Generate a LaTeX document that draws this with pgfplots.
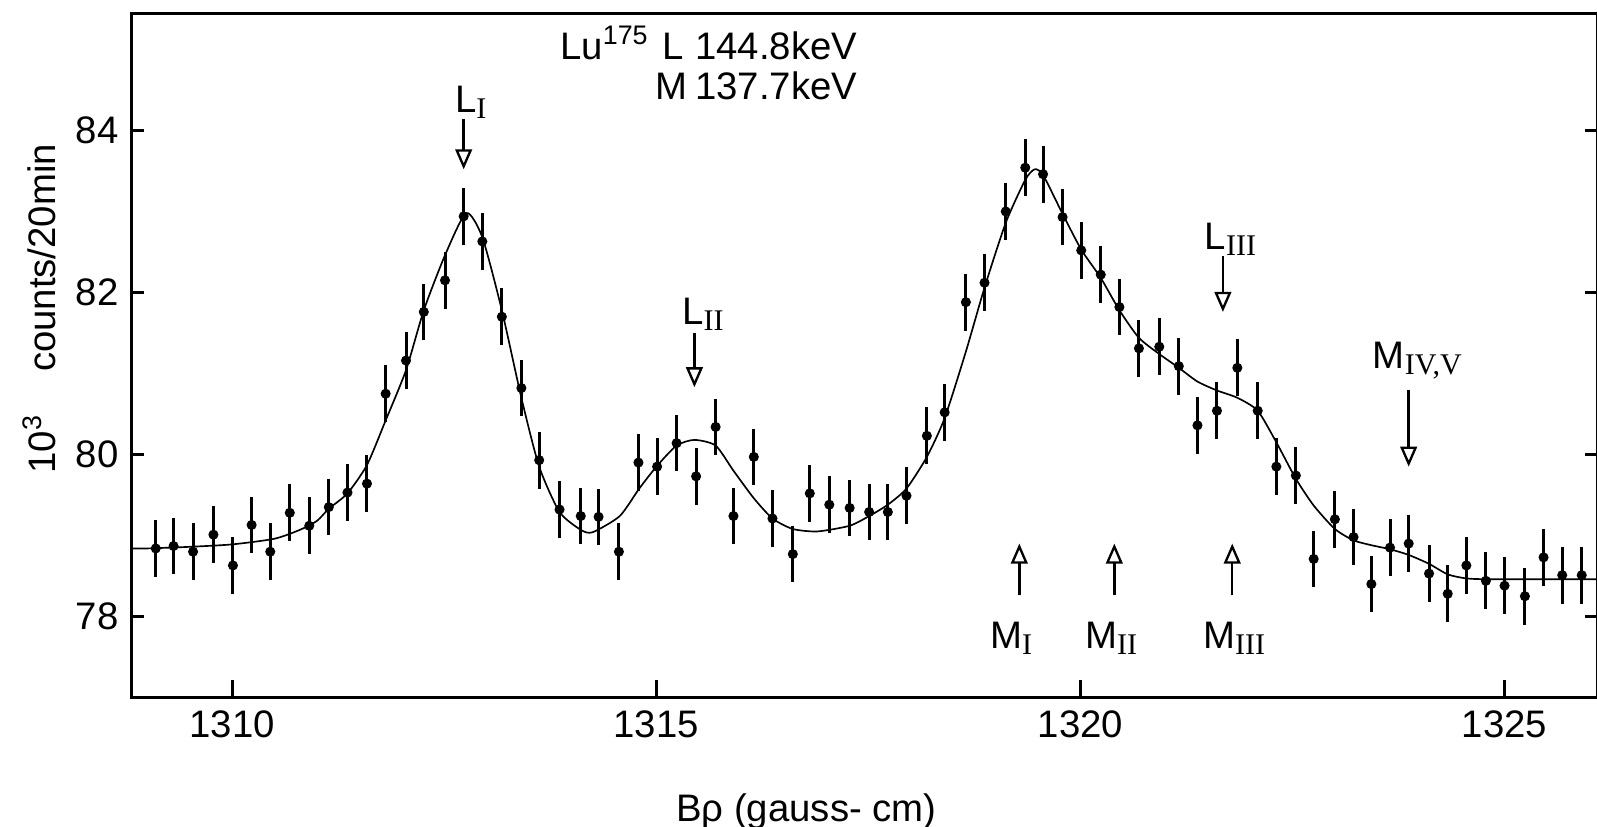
\documentclass[border=0pt]{standalone}
\usepackage{fontspec}
\setmainfont{Liberation Sans}
\newfontfamily\serif{Liberation Serif}
\usepackage{pgfplots}
\usepackage{pgfplotstable}
\pgfplotsset{compat=1.18}
\usetikzlibrary{arrows.meta}
\newcommand{\sub}[1]{\raisebox{-0.3ex}{\fontsize{9}{10}\selectfont\serif #1}}

\pgfplotstableread{
x y
1309.10 78.84
1309.31 78.87
1309.54 78.80
1309.78 79.01
1310.01 78.63
1310.23 79.13
1310.45 78.80
1310.68 79.28
1310.91 79.12
1311.14 79.35
1311.36 79.53
1311.59 79.64
1311.81 80.75
1312.05 81.16
1312.26 81.76
1312.51 82.15
1312.73 82.94
1312.95 82.63
1313.18 81.70
1313.41 80.82
1313.62 79.93
1313.86 79.32
1314.11 79.24
1314.32 79.23
1314.56 78.80
1314.79 79.90
1315.01 79.85
1315.24 80.14
1315.47 79.73
1315.70 80.34
1315.91 79.24
1316.15 79.97
1316.37 79.21
1316.61 78.77
1316.81 79.52
1317.04 79.38
1317.28 79.34
1317.51 79.29
1317.73 79.29
1317.95 79.49
1318.19 80.23
1318.40 80.52
1318.65 81.88
1318.87 82.12
1319.12 83.00
1319.35 83.54
1319.56 83.46
1319.79 82.93
1320.01 82.52
1320.24 82.22
1320.46 81.82
1320.69 81.31
1320.93 81.33
1321.16 81.09
1321.38 80.36
1321.61 80.54
1321.85 81.07
1322.09 80.54
1322.31 79.85
1322.54 79.74
1322.75 78.71
1323.00 79.20
1323.22 78.98
1323.43 78.40
1323.65 78.85
1323.87 78.90
1324.11 78.53
1324.33 78.28
1324.55 78.63
1324.78 78.44
1325.00 78.38
1325.24 78.25
1325.46 78.73
1325.68 78.51
1325.91 78.51
}\points

\pgfplotstableread{
x y
1308.82 78.84
1309.00 78.84
1309.50 78.86
1310.00 78.89
1310.50 78.96
1310.80 79.07
1311.00 79.18
1311.14 79.33
1311.36 79.52
1311.59 79.87
1311.81 80.42
1312.05 81.04
1312.26 81.78
1312.51 82.46
1312.76 82.98
1312.95 82.68
1313.18 81.78
1313.41 80.70
1313.62 79.85
1313.86 79.29
1314.11 79.07
1314.25 79.04
1314.57 79.24
1314.80 79.58
1315.01 79.86
1315.24 80.11
1315.45 80.18
1315.70 80.11
1315.91 79.80
1316.15 79.46
1316.37 79.21
1316.61 79.08
1316.90 79.05
1317.28 79.12
1317.51 79.24
1317.73 79.38
1317.95 79.58
1318.19 79.97
1318.40 80.45
1318.65 81.27
1318.87 82.06
1319.12 82.86
1319.35 83.39
1319.46 83.52
1319.56 83.45
1319.79 82.97
1320.01 82.53
1320.24 82.18
1320.46 81.78
1320.69 81.44
1320.93 81.24
1321.16 81.07
1321.38 80.90
1321.61 80.79
1321.85 80.70
1322.09 80.54
1322.31 80.15
1322.54 79.70
1322.75 79.37
1323.00 79.08
1323.22 78.94
1323.43 78.88
1323.65 78.83
1323.87 78.76
1324.11 78.65
1324.33 78.52
1324.55 78.47
1324.80 78.46
1325.40 78.46
1326.09 78.46
}\curve

\begin{document}
\fontsize{11.5}{14}\selectfont
\begin{tikzpicture}[myarrow/.style={line width=0.75pt, -{Triangle[open,length=6pt,width=5pt,line width=0.7pt]}}]
\begin{axis}[
  scale only axis, width=439.5pt, height=205.35pt,
  xmin=1308.82, xmax=1326.09, ymin=77, ymax=85.45,
  axis line style={line width=0.9pt},
  tick align=inside,
  xtick=\empty,
  extra x ticks={1310,1315,1320,1325},
  extra x tick style={major tick length=5.2pt},
  xtick pos=bottom,
  ytick={78,80,82,84}, ytick pos=both,
  major tick length=3.7pt,
  tick style={line width=0.9pt, black},
  every tick label/.append style={font=\fontsize{11.5}{14}\selectfont},
  /pgf/number format/assume math mode=true,
  /pgf/number format/1000 sep={},
  clip=false,
]
\addplot[black, line width=0.5pt, smooth, tension=0.4, mark=none] table[x=x,y=y] {\curve};
\addplot[black, only marks, mark=*, mark size=1.3pt,
  error bars/.cd, y dir=both, y fixed=0.35, error mark=none,
  error bar style={line width=0.9pt}] table[x=x,y=y] {\points};

% down arrows (L_I, L_II, L_III, M_IV,V)
\draw[myarrow] (axis cs:1312.73,84.14) -- (axis cs:1312.73,83.52);
\draw[myarrow] (axis cs:1315.45,81.50) -- (axis cs:1315.45,80.83);
\draw[myarrow] (axis cs:1321.68,82.45) -- (axis cs:1321.68,81.76);
\draw[myarrow] (axis cs:1323.87,80.80) -- (axis cs:1323.87,79.85);
% up arrows (M_I, M_II, M_III)
\draw[myarrow] (axis cs:1319.28,78.26) -- (axis cs:1319.28,78.90);
\draw[myarrow] (axis cs:1320.40,78.26) -- (axis cs:1320.40,78.90);
\draw[myarrow] (axis cs:1321.79,78.26) -- (axis cs:1321.79,78.90);

\node[anchor=base west, inner sep=0pt] at (axis cs:1312.62,84.22) {L\sub{I}};
\node[anchor=base west, inner sep=0pt] at (axis cs:1315.30,81.60) {L\sub{II}};
\node[anchor=base west, inner sep=0pt] at (axis cs:1321.46,82.53) {L\sub{III}};
\node[anchor=base west, inner sep=0pt] at (axis cs:1323.44,81.06) {M\sub{IV,V}};
\node[anchor=base west, inner sep=0pt] at (axis cs:1318.93,77.60) {M\sub{I}};
\node[anchor=base west, inner sep=0pt] at (axis cs:1320.05,77.60) {M\sub{II}};
\node[anchor=base west, inner sep=0pt] at (axis cs:1321.44,77.60) {M\sub{III}};

\node[anchor=base west, inner sep=0pt] at (axis cs:1313.86,84.88) {Lu\textsuperscript{175}};
\node[anchor=base west, inner sep=0pt] at (axis cs:1315.07,84.88) {L};
\node[anchor=base west, inner sep=0pt] at (axis cs:1315.45,84.88) {144.8keV};
\node[anchor=base west, inner sep=0pt] at (axis cs:1314.98,84.38) {M};
\node[anchor=base west, inner sep=0pt] at (axis cs:1315.45,84.38) {137.7keV};

\node[rotate=90, anchor=center, inner sep=0pt] at (axis cs:1307.73,81.80) {10\textsuperscript{3}\hspace{1.1em}counts/20min};
\node[anchor=center, inner sep=0pt] at (axis cs:1316.77,75.59) {Bρ (gauss- cm)};
\end{axis}
\pgfresetboundingbox
\path[use as bounding box] ([shift={(-39.6pt,-38.85pt)}]current axis.south west) rectangle ([shift={(0pt,3.9pt)}]current axis.north east);
\end{tikzpicture}
\end{document}
